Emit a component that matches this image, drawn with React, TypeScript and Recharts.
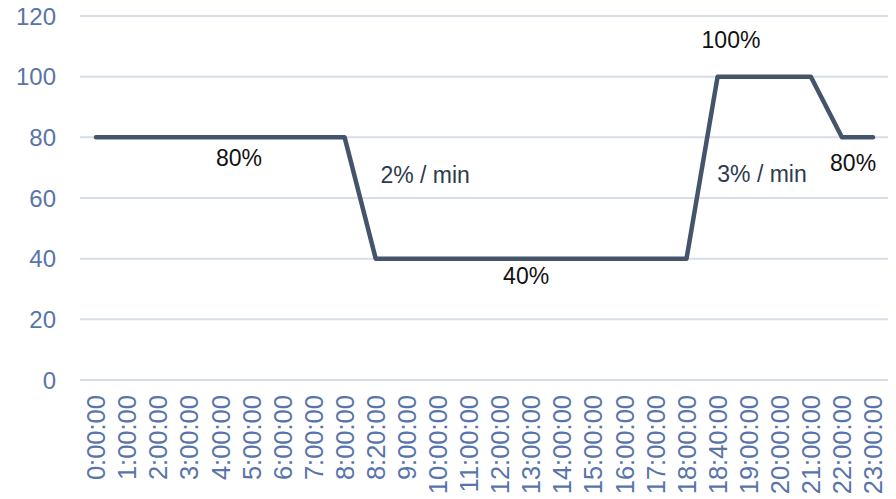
import { LineChart, Line, XAxis, YAxis, CartesianGrid, ReferenceDot } from "recharts";

const times = [
  "0:00:00", "1:00:00", "2:00:00", "3:00:00", "4:00:00", "5:00:00", "6:00:00",
  "7:00:00", "8:00:00", "8:20:00", "9:00:00", "10:00:00", "11:00:00", "12:00:00",
  "13:00:00", "14:00:00", "15:00:00", "16:00:00", "17:00:00", "18:00:00",
  "18:40:00", "19:00:00", "20:00:00", "21:00:00", "22:00:00", "23:00:00",
];
const power = [
  80, 80, 80, 80, 80, 80, 80, 80, 80, 40, 40, 40, 40, 40, 40, 40, 40, 40, 40, 40,
  100, 100, 100, 100, 80, 80,
];
const yTicks = [0, 20, 40, 60, 80, 100, 120];

// annotation texts, placed in (category index, value) space
const noteText = ["80%", "2% / min", "40%", "100%", "3% / min", "80%"];
const noteX = [4.6, 10.59, 13.84, 20.43, 21.43, 24.36];
const noteY = [73.2, 67.6, 34.3, 112.3, 67.9, 71.5];

const data = times.map((t, i) => ({ time: t, value: power[i] }));
const notes = noteText.map((text, i) => ({ text, x: noteX[i], y: noteY[i] }));

const FONT = "'Liberation Sans', Arial, sans-serif";
const TICK = "#5874aa";

function TimeTick(props: any) {
  const { x, y, payload } = props;
  return (
    <g transform={`translate(${x},${y})`}>
      <text
        x={0}
        y={0}
        dy="0.36em"
        textAnchor="end"
        transform="rotate(-90)"
        fill={TICK}
        fontSize={25.5}
        fontFamily={FONT}
      >
        {payload.value}
      </text>
    </g>
  );
}

export default function App() {
  return (
    <div style={{ position: "absolute", left: 0, top: 0, background: "#fff" }}>
      <LineChart
        width={896}
        height={499}
        data={data}
        margin={{ top: 16, right: 8, left: 0, bottom: 0 }}
      >
        <CartesianGrid vertical={false} stroke="#d7dde9" strokeWidth={2} />
        <XAxis
          dataKey="time"
          interval={0}
          height={119}
          axisLine={false}
          tickLine={false}
          tickMargin={9}
          padding={{ left: 16, right: 15 }}
          tick={<TimeTick />}
        />
        <XAxis
          xAxisId="num"
          type="number"
          domain={[0, times.length - 1]}
          hide
          padding={{ left: 16, right: 15 }}
        />
        <YAxis
          width={80}
          domain={[0, 120]}
          ticks={yTicks}
          axisLine={false}
          tickLine={false}
          tickMargin={18}
          tick={{ fill: TICK, fontSize: 24, fontFamily: FONT }}
        />
        <Line
          type="linear"
          dataKey="value"
          stroke="#44546a"
          strokeWidth={4.5}
          strokeLinecap="round"
          strokeLinejoin="round"
          dot={false}
          activeDot={false}
          isAnimationActive={false}
        />
        {notes.map((n, i) => (
          <ReferenceDot
            key={i}
            xAxisId="num"
            x={n.x}
            y={n.y}
            r={0}
            shape={(p: any) => (
              <text
                x={p.cx}
                y={p.cy}
                dy="0.36em"
                textAnchor="middle"
                fill={n.text.includes("min") ? "#2d3a4e" : "#111"}
                fontSize={23}
                fontFamily={FONT}
              >
                {n.text}
              </text>
            )}
          />
        ))}
      </LineChart>
    </div>
  );
}
